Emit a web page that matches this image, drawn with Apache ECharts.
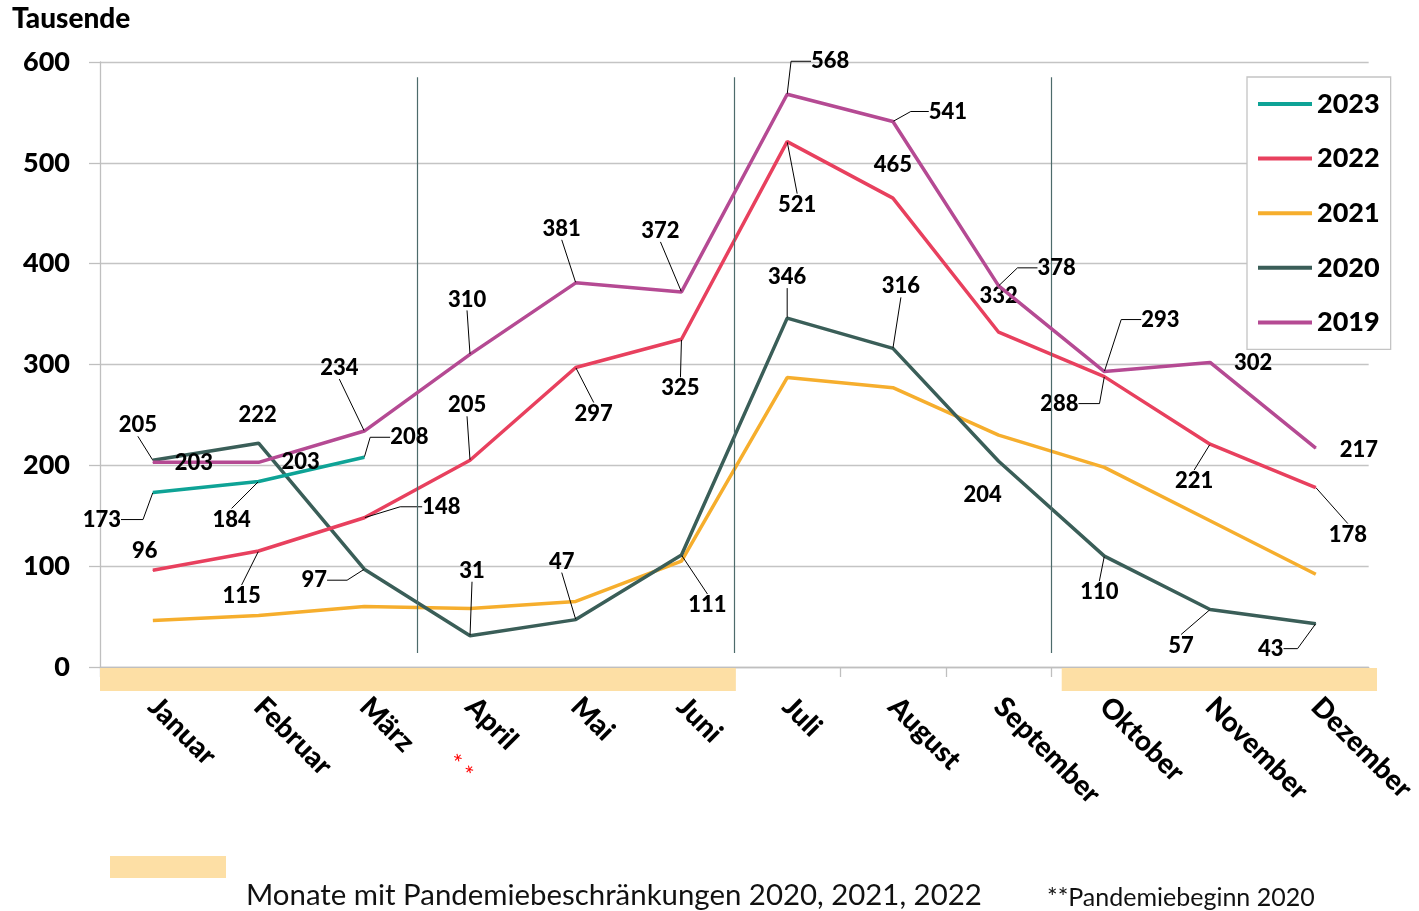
<!DOCTYPE html>
<html><head><meta charset="utf-8">
<script src="https://cdn.jsdelivr.net/npm/echarts@6/dist/echarts.min.js"></script>
<style>html,body{margin:0;padding:0;background:#fff}#c{width:1419px;height:911px}</style>
</head><body><div id="c"></div>
<script>
// ---------- data ----------
const months = ['Januar','Februar','März','April','Mai','Juni','Juli','August','September','Oktober','November','Dezember'];
const v2023 = [173, 184, 208];
const v2022 = [96, 115, 148, 205, 297, 325, 521, 465, 332, 288, 221, 178];
const v2021 = [46, 51, 60, 58, 65, 105, 287, 277, 230, 198, 145, 92];
const v2020 = [205, 222, 97, 31, 47, 111, 346, 316, 204, 110, 57, 43];
const v2019 = [203, 203, 234, 310, 381, 372, 568, 541, 378, 293, 302, 217];
const yMin = 0, yMax = 600, yStep = 100;
const legendOrder = ['2023', '2022', '2021', '2020', '2019'];
// pandemic restriction month ranges (in month units) and quarter separators
const bandRanges = [[0, 6.01], [9.09, 12.07]];
const quarterSeps = [3, 6, 9];

// ---------- label placement (layout only) ----------
const off2019 = [[41,1],[42,0],[-25,-63],[-3,-55],[-14,-54],[-21,-61],[43,-33],[55,-10],[58,-18],[56,-52],[43,0],[43,2]];
const lead2019 = [null,null,0,0,0,0,20,18,20,20,null,null];
const off2022 = [[-8,-19],[-17,45],[77,-11],[-3,-55],[18,46],[-1,49],[10,63],[0,-33],[0,-36],[-45,27],[-16,37],[32,47]];
const lead2022 = [null,0,22,0,0,0,0,null,null,21,0,0];
const off2020 = [[-15,-35],[-1,-28],[-50,11],[2,-65],[-14,-58],[26,50],[0,-41],[8,-62],[-16,34],[-5,36],[-29,36],[-45,25]];
const lead2020 = [0,null,20,0,0,0,0,0,null,0,0,14];
const off2023 = [[-51,27],[-27,38],[45,-20]];
const lead2023 = [22,0,20];

const FONT = 'Lato';
const HEAVY = 900;

function mkSeries(name, vals, color, off, lead, z) {
  const data = vals.map((v, i) => {
    const item = { value: v };
    if (lead) {
      item.labelLine = lead[i] == null ? { show: false } :
        { show: true, length2: lead[i], lineStyle: { color: '#000', width: 1 } };
    }
    return item;
  });
  return {
    name, type: 'line', data, z,
    color,
    lineStyle: { color, width: 3.5 },
    itemStyle: { color },
    symbol: 'circle', symbolSize: 1,
    showSymbol: !!off, showAllSymbol: true,
    label: off ? { show: true, position: 'inside', color: '#000', fontFamily: FONT, fontWeight: HEAVY, fontSize: 22 } : { show: false },
    labelLayout: off ? (p) => ({ dx: off[p.dataIndex][0], dy: off[p.dataIndex][1] }) : undefined,
    emphasis: { disabled: true },
    animation: false
  };
}

const chart = echarts.init(document.getElementById('c'), null, { renderer: 'canvas' });
chart.setOption({
  animation: false,
  backgroundColor: '#fff',
  textStyle: { fontFamily: FONT },
  grid: [
    { left: 100, right: 49, top: 62, bottom: 244 },
    { left: 100, width: 1277, top: 668, height: 23 }
  ],
  legend: {
    data: legendOrder, orient: 'vertical', left: 1247, top: 77,
    padding: [12, 11, 12, 11], itemGap: 24.6, itemWidth: 54, itemHeight: 4, icon: 'rect',
    borderColor: '#c4c4c4', borderWidth: 1.3, backgroundColor: '#fff', selectedMode: false,
    textStyle: { fontSize: 27, fontWeight: HEAVY, color: '#000', lineHeight: 30, fontFamily: FONT }
  },
  xAxis: [
    { type: 'category', data: months, gridIndex: 0, boundaryGap: true,
      axisLine: { show: true, lineStyle: { color: '#bfbfbf', width: 1.3 } },
      axisTick: { show: true, length: 10, lineStyle: { color: '#bfbfbf', width: 1.3 } },
      splitLine: { show: false },
      axisLabel: { interval: 0, rotate: -45, margin: 35, padding: [34, 0, 0, 0],
        color: '#000', fontWeight: HEAVY, fontSize: 28, fontFamily: FONT } },
    { type: 'value', gridIndex: 0, min: 0, max: 12, show: false },
    { type: 'value', gridIndex: 1, min: 0, max: 12.07, show: false }
  ],
  yAxis: [
    { type: 'value', gridIndex: 0, min: yMin, max: yMax, interval: yStep,
      axisLine: { show: true, lineStyle: { color: '#bfbfbf', width: 1.3 } },
      axisTick: { show: true, length: 11, lineStyle: { color: '#bfbfbf', width: 1.3 } },
      splitLine: { show: true, lineStyle: { color: '#c4c4c4', width: 1.3 } },
      axisLabel: { margin: 30, color: '#000', fontWeight: HEAVY, fontSize: 27, fontFamily: FONT } },
    { type: 'value', gridIndex: 1, min: 0, max: 1, show: false }
  ],
  series: [
    mkSeries('2021', v2021, '#f6ae2d', null, null, 2),
    mkSeries('2020', v2020, '#3a5e58', off2020, lead2020, 3),
    mkSeries('2022', v2022, '#e8405e', off2022, lead2022, 4),
    mkSeries('2023', v2023, '#0ea396', off2023, lead2023, 5),
    mkSeries('2019', v2019, '#b54a93', off2019, lead2019, 6),
    { type: 'line', xAxisIndex: 1, yAxisIndex: 0, data: [], silent: true, z: 1,
      markLine: { silent: true, symbol: 'none', label: { show: false },
        lineStyle: { color: '#4d6b6b', width: 1.2, type: 'solid' },
        data: quarterSeps.map(s => [{ coord: [s, 14] }, { coord: [s, 585] }]) } },
    { type: 'line', xAxisIndex: 2, yAxisIndex: 1, data: [], silent: true, z: 3,
      markArea: { silent: true, itemStyle: { color: '#fddfa5' },
        data: bandRanges.map(r => [{ coord: [r[0], 0] }, { coord: [r[1], 1] }]) } }
  ],
  graphic: [
    { type: 'text', x: 12, y: 19, style: { text: 'Tausende', fill: '#000', fontSize: 28, fontWeight: HEAVY, fontFamily: FONT, align: 'left', verticalAlign: 'middle' } },
    { type: 'text', x: 459, y: 768, rotation: -Math.PI / 4, style: { text: '* *', fill: '#ff0000', fontSize: 24, fontFamily: FONT, align: 'center', verticalAlign: 'middle' } },
    { type: 'rect', shape: { x: 110, y: 856, width: 116, height: 22 }, style: { fill: '#fddfa5' } },
    { type: 'text', x: 246, y: 896, style: { text: 'Monate mit Pandemiebeschränkungen 2020, 2021, 2022', fill: '#111', fontSize: 29.4, fontFamily: FONT, align: 'left', verticalAlign: 'middle' } },
    { type: 'text', x: 1047, y: 898, style: { text: '**Pandemiebeginn 2020', fill: '#111', fontSize: 25, fontFamily: FONT, align: 'left', verticalAlign: 'middle' } }
  ]
});
</script></body></html>
